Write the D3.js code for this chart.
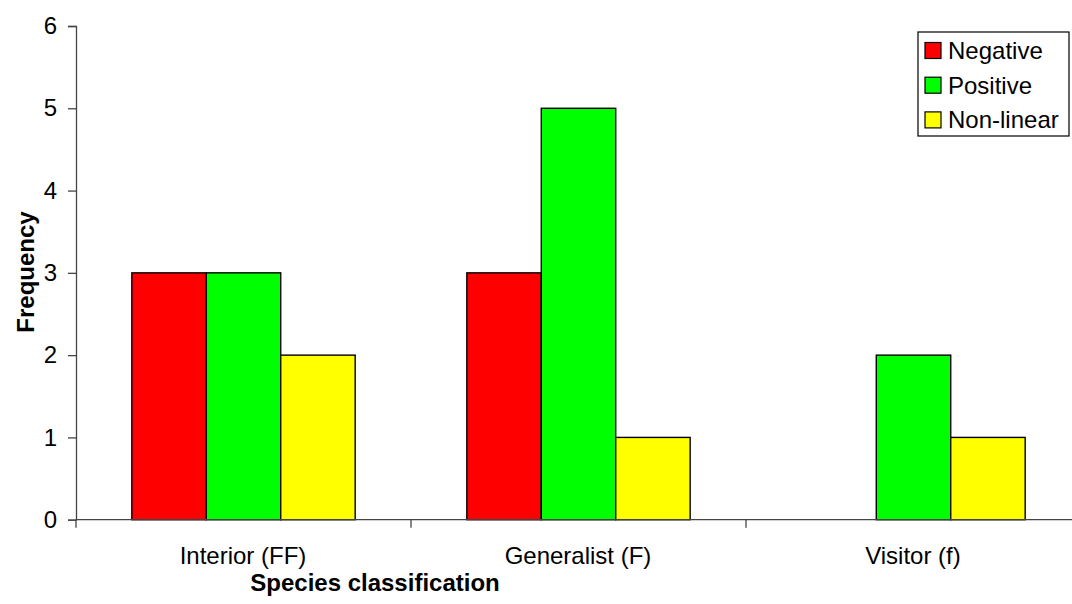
<!DOCTYPE html>
<html>
<head>
<meta charset="utf-8">
<script src="https://cdn.jsdelivr.net/npm/d3@7"></script>
<style>
  body { margin: 0; background: #fff; }
  text { font-family: Arial, "Liberation Sans", sans-serif; }
</style>
</head>
<body>
<div id="chart"></div>
<script>
// chart data
var categories = ["Interior (FF)", "Generalist (F)", "Visitor (f)"];
var seriesNames = ["Negative", "Positive", "Non-linear"];
var negative = [3, 3, 0];
var positive = [3, 5, 2];
var nonLinear = [2, 1, 1];
var yTicks = [0, 1, 2, 3, 4, 5, 6];

var colours = ["#ff0000", "#00ff00", "#ffff00"];
var values = [negative, positive, nonLinear];

var totalWidth = 1072;
var totalHeight = 604;

// plot area (the right edge runs past the picture)
var plotLeft = 76, plotRight = 1081, plotTop = 26, plotBottom = 519.7;

var x = d3.scaleBand().domain(categories).range([plotLeft, plotRight]).padding(0);
var xInner = d3.scaleBand().domain(seriesNames).range([0, x.bandwidth()])
    .paddingInner(0).paddingOuter(0.75);
var y = d3.scaleLinear().domain([0, 6]).range([plotBottom, plotTop]);

var svg = d3.select("#chart").append("svg")
    .attr("width", totalWidth)
    .attr("height", totalHeight);

// bars
seriesNames.forEach(function(s, i) {
    svg.append("g").selectAll("rect")
        .data(categories.map(function(c, j) { return {cat: c, v: values[i][j]}; })
            .filter(function(d) { return d.v > 0; }))
        .enter().append("rect")
        .attr("x", function(d) { return x(d.cat) + xInner(s); })
        .attr("y", function(d) { return y(d.v); })
        .attr("width", xInner.bandwidth())
        .attr("height", function(d) { return y(0) - y(d.v); })
        .attr("fill", colours[i])
        .attr("stroke", "#000")
        .attr("stroke-width", 1.4);
});

// y axis
var yAxis = d3.axisLeft(y).tickValues(yTicks).tickSize(8).tickPadding(11)
    .tickFormat(d3.format("d"));
var gy = svg.append("g")
    .attr("transform", "translate(" + plotLeft + ",0)")
    .call(yAxis);
gy.select(".domain").attr("stroke", "#444").attr("stroke-width", 1.3);
gy.selectAll(".tick line").attr("stroke", "#444").attr("stroke-width", 1.3);
gy.selectAll(".tick text").attr("font-size", 24).attr("fill", "#000")
    .attr("font-family", "Arial, 'Liberation Sans', sans-serif");

// x axis: ticks at category boundaries, labels centred
var gx = svg.append("g");
gx.append("line")
    .attr("x1", plotLeft).attr("x2", plotRight)
    .attr("y1", y(0)).attr("y2", y(0))
    .attr("stroke", "#444").attr("stroke-width", 1.3);
gx.selectAll(".xtick").data(categories).enter().append("line")
    .attr("x1", function(d) { return x(d); })
    .attr("x2", function(d) { return x(d); })
    .attr("y1", y(0)).attr("y2", y(0) + 8)
    .attr("stroke", "#444").attr("stroke-width", 1.3);
gx.selectAll(".xlabel").data(categories).enter().append("text")
    .attr("x", function(d) { return x(d) + x.bandwidth() / 2 - 0.5; })
    .attr("y", 564)
    .attr("text-anchor", "middle")
    .attr("font-size", 24)
    .text(function(d) { return d; });

// axis titles
svg.append("text")
    .attr("x", 375).attr("y", 591)
    .attr("text-anchor", "middle")
    .attr("font-size", 24).attr("font-weight", "bold")
    .text("Species classification");

svg.append("text")
    .attr("transform", "translate(34,272) rotate(-90)")
    .attr("text-anchor", "middle")
    .attr("font-size", 24).attr("font-weight", "bold")
    .text("Frequency");

// legend
var legend = svg.append("g").attr("transform", "translate(918,32)");
legend.append("rect")
    .attr("x", 0).attr("y", 0)
    .attr("width", 151).attr("height", 104)
    .attr("fill", "#fff").attr("stroke", "#000").attr("stroke-width", 1.2);
var rows = legend.selectAll(".row").data(seriesNames).enter().append("g")
    .attr("transform", function(d, i) { return "translate(0," + (18.5 + i * 34.7) + ")"; });
rows.append("rect")
    .attr("x", 7).attr("y", -8)
    .attr("width", 16).attr("height", 16)
    .attr("fill", function(d, i) { return colours[i]; })
    .attr("stroke", "#000").attr("stroke-width", 1.2);
rows.append("text")
    .attr("x", 30).attr("y", 8.5)
    .attr("font-size", 24)
    .text(function(d) { return d; });
</script>
</body>
</html>
